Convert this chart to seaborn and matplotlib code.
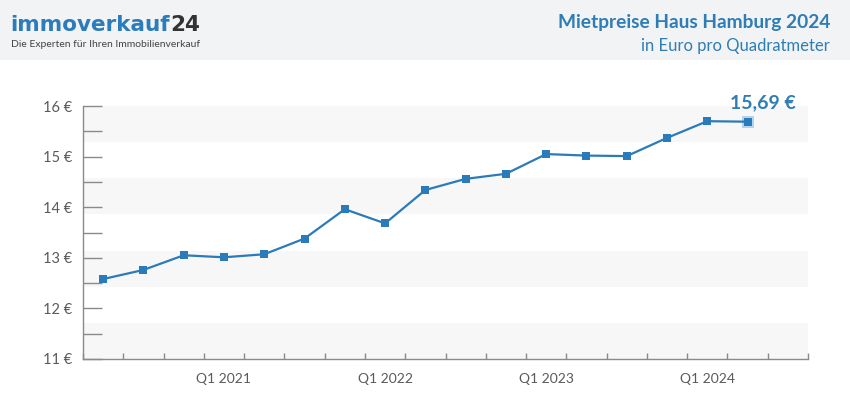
import matplotlib
matplotlib.use("Agg")
import matplotlib.pyplot as plt
import seaborn as sns
import pandas as pd
from matplotlib.patches import Rectangle

quarters = ["Q2 2020", "Q3 2020", "Q4 2020", "Q1 2021", "Q2 2021", "Q3 2021", "Q4 2021",
            "Q1 2022", "Q2 2022", "Q3 2022", "Q4 2022", "Q1 2023", "Q2 2023", "Q3 2023",
            "Q4 2023", "Q1 2024", "Q2 2024"]
prices = [12.58, 12.76, 13.05, 13.01, 13.07, 13.38, 13.96, 13.68, 14.34, 14.56, 14.66,
          15.05, 15.02, 15.01, 15.37, 15.70, 15.69]
tick_labels = ["Q1 2021", "Q1 2022", "Q1 2023", "Q1 2024"]
y_ticks = [11, 12, 13, 14, 15, 16]
last_label = "15,69 €"

BLUE = "#2b7bba"
TITLE_BLUE = "#2f7db5"
GRAY_TXT = "#5a5a5a"
AXIS_GRAY = "#8a8a8a"

sns.set_theme(style="white")
plt.rcParams["font.family"] = ["Lato", "DejaVu Sans"]

W, H = 850, 417
fig = plt.figure(figsize=(W / 100, H / 100), dpi=100)
fig.patch.set_facecolor("white")

def fx(px):
    return px / W

def fy(py):
    return 1 - py / H

# header band
fig.patches.append(Rectangle((0, fy(60)), 1, 60 / H, transform=fig.transFigure,
                             facecolor="#f2f3f5", edgecolor="none", zorder=0))

ax = fig.add_axes([fx(83), fy(359), fx(808) - fx(83), fy(106) - fy(359)])
ax.set_facecolor("white")

df = pd.DataFrame({"quarter": quarters, "price": prices})
df["pos"] = range(len(df))

# alternating bands
n_bands = 7
for k in range(0, n_bands, 2):
    lo = 11 + k * 5 / n_bands
    hi = 11 + (k + 1) * 5 / n_bands
    ax.axhspan(lo, hi, color="#f7f7f8", zorder=0, lw=0)

sns.lineplot(data=df, x="pos", y="price", ax=ax, color=BLUE, lw=1.6,
             marker="s", markersize=5.5, markeredgewidth=0, zorder=3)
# highlight last point
last = df.iloc[-1]
ax.scatter([last["pos"]], [last["price"]], marker="s", s=85, color="#b6d3ec",
           zorder=2, linewidths=0)
ax.annotate(last_label, (last["pos"], last["price"]), xytext=(11, 10),
            textcoords="offset points", ha="center", va="baseline",
            fontsize=14, fontweight="bold", color=TITLE_BLUE)

ax.set_xlim(-0.5, len(quarters) + 0.5)
ax.set_ylim(11, 16)
ax.set_xlabel("")
ax.set_ylabel("")

label_pos = [quarters.index(q) for q in tick_labels]
ax.set_xticks(label_pos)
ax.set_xticklabels(tick_labels)
ax.set_xticks([i - 0.5 for i in range(len(quarters) + 2)], minor=True)
ax.tick_params(axis="x", which="major", length=0, pad=10, labelsize=10, labelcolor=GRAY_TXT)
ax.tick_params(axis="x", which="minor", direction="in", length=4.5, width=1, color=AXIS_GRAY, bottom=True)

ax.set_yticks(y_ticks)
ax.set_yticklabels([f"{v} €" for v in y_ticks])
ax.set_yticks([v + 0.5 for v in y_ticks[:-1]], minor=True)
ax.tick_params(axis="y", which="both", direction="in", length=13.5, width=1, color=AXIS_GRAY, left=True)
ax.tick_params(axis="y", which="major", pad=8, labelsize=10.5, labelcolor=GRAY_TXT)

for s in ["top", "right"]:
    ax.spines[s].set_visible(False)
for s in ["left", "bottom"]:
    ax.spines[s].set_color(AXIS_GRAY)
    ax.spines[s].set_linewidth(1)

# header texts
t1 = fig.text(fx(10), fy(31), "immoverkauf", fontsize=15.5, fontweight="bold",
              family="DejaVu Sans", color="#2b7cbc", ha="left", va="baseline")
fig.canvas.draw()
bb = t1.get_window_extent(fig.canvas.get_renderer())
fig.text(bb.x1 / W + fx(1), fy(31), "24", fontsize=15.5, fontweight="bold",
         family="DejaVu Sans", color="#333333", ha="left", va="baseline")
fig.text(fx(11), fy(47), "Die Experten für Ihren Immobilienverkauf", fontsize=7.5,
         color="#444444", ha="left", va="baseline")

fig.text(fx(830), fy(28), "Mietpreise Haus Hamburg 2024", fontsize=13.8, fontweight="bold",
         color=TITLE_BLUE, ha="right", va="baseline")
fig.text(fx(830), fy(51), "in Euro pro Quadratmeter", fontsize=12, color=TITLE_BLUE,
         ha="right", va="baseline")

fig.savefig("out.png", dpi=100)
